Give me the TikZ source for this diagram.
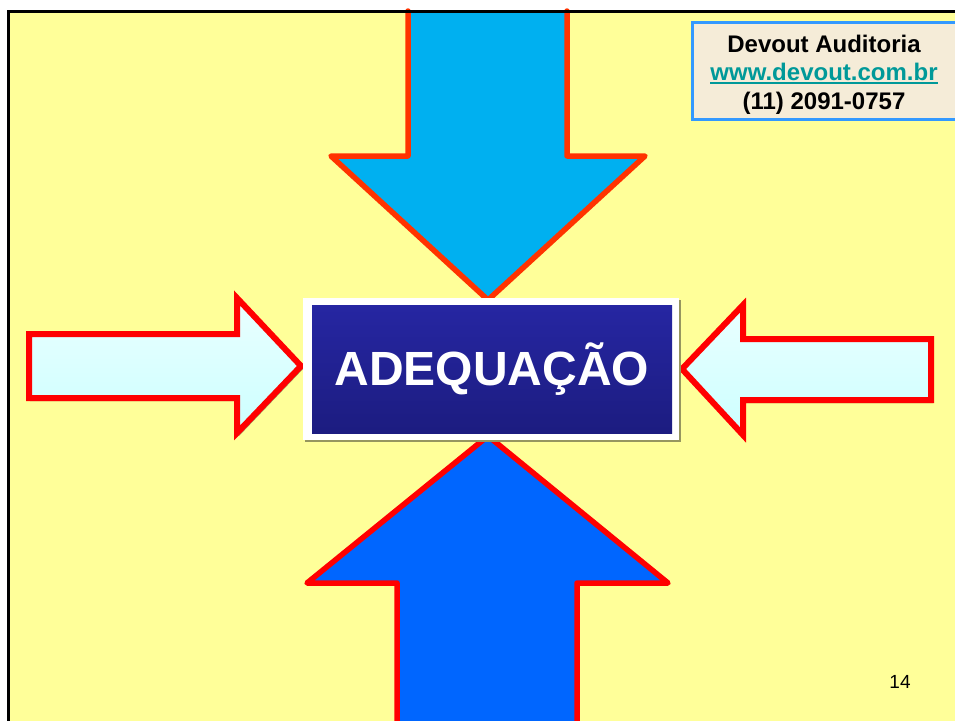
\documentclass[tikz,border=0pt]{standalone}
\usepackage{fontspec}
\setmainfont{Liberation Sans}
\usetikzlibrary{shadings,calc}
\definecolor{bgyellow}{RGB}{255,255,153}
\definecolor{topblue}{RGB}{0,176,240}
\definecolor{botblue}{RGB}{0,102,255}
\definecolor{redline}{RGB}{255,0,0}
\definecolor{orangeline}{RGB}{255,51,0}
\definecolor{paleA}{RGB}{234,255,255}
\definecolor{paleB}{RGB}{204,255,255}
\definecolor{navyA}{RGB}{38,38,162}
\definecolor{navyB}{RGB}{28,28,128}
\definecolor{shadowc}{RGB}{150,150,95}
\definecolor{beige}{RGB}{245,236,216}
\definecolor{linkc}{RGB}{0,153,153}
\definecolor{framec}{RGB}{51,153,255}
\tikzset{
  sidearrow/.style={draw=redline, line width=6pt, miter limit=10, top color=paleA, bottom color=paleB},
  sideshadow/.style={fill=shadowc},
  vline/.style={line width=5.5pt, line join=round, line cap=round},
  infotext/.style={font=\bfseries\fontsize{24}{28}\selectfont, anchor=base, inner sep=0pt},
}
\begin{document}
\begin{tikzpicture}[x=1pt,y=-1pt]
\useasboundingbox (0,0) rectangle (955,720);
\fill[white] (0,0) rectangle (955,720);
\fill[bgyellow] (8.5,11) rectangle (980,740);

% top arrow
\fill[topblue] (408,11) -- (408,156) -- (331,156) -- (488,300) -- (645,156) -- (567,156) -- (567,11) -- cycle;
\draw[orangeline, vline] (408,11) -- (408,156) -- (331,156) -- (488,300) -- (645,156) -- (567,156) -- (567,11);

% bottom arrow
\fill[botblue] (397,730) -- (397,583) -- (307,583) -- (488,436) -- (668,583) -- (577,583) -- (577,730) -- cycle;
\draw[redline, vline] (397,730) -- (397,583) -- (307,583) -- (488,436) -- (668,583) -- (577,583) -- (577,730);

% left arrow
\fill[sideshadow] (30,336) -- (239,336) -- (239,301) -- (304,368) -- (239,436) -- (239,401) -- (30,401) -- cycle;
\path[sidearrow] (29,334) -- (237,334) -- (237,298) -- (301,366) -- (237,433) -- (237,398) -- (29,398) -- cycle;

% right arrow
\fill[sideshadow] (933,342) -- (745,342) -- (745,308) -- (684,371) -- (745,438) -- (745,403) -- (933,403) -- cycle;
\path[sidearrow] (931,339) -- (743,339) -- (743,305) -- (682,369) -- (743,435) -- (743,400) -- (931,400) -- cycle;

% centre box
\fill[shadowc] (305,300) rectangle (681,442);
\fill[white] (303,298) rectangle (679,440);
\node[minimum width=360pt, minimum height=128pt, inner sep=0pt, top color=navyA, bottom color=navyB,
      text=white, font=\bfseries\fontsize{48}{48}\selectfont] (box) at (492,369) {ADEQUAÇÃO};

% info box
\draw[framec, line width=3pt, fill=beige] (692,22) rectangle (960,119);
\node[infotext] (name) at (824,52) {Devout Auditoria};
\node[infotext, text=linkc] (web) at (824,80) {www.devout.com.br};
\draw[linkc, line width=2pt] ($(web.base west)+(0,3.2)$) -- ($(web.base east)+(0,3.2)$);
\node[infotext] (phone) at (824,109) {(11) 2091-0757};

% page number
\node[font=\fontsize{19}{19}\selectfont, inner sep=0pt] (num) at (900,682) {14};

% frame
\draw[black, line width=3pt] (8.5,11) rectangle (980,740);
\end{tikzpicture}
\end{document}
